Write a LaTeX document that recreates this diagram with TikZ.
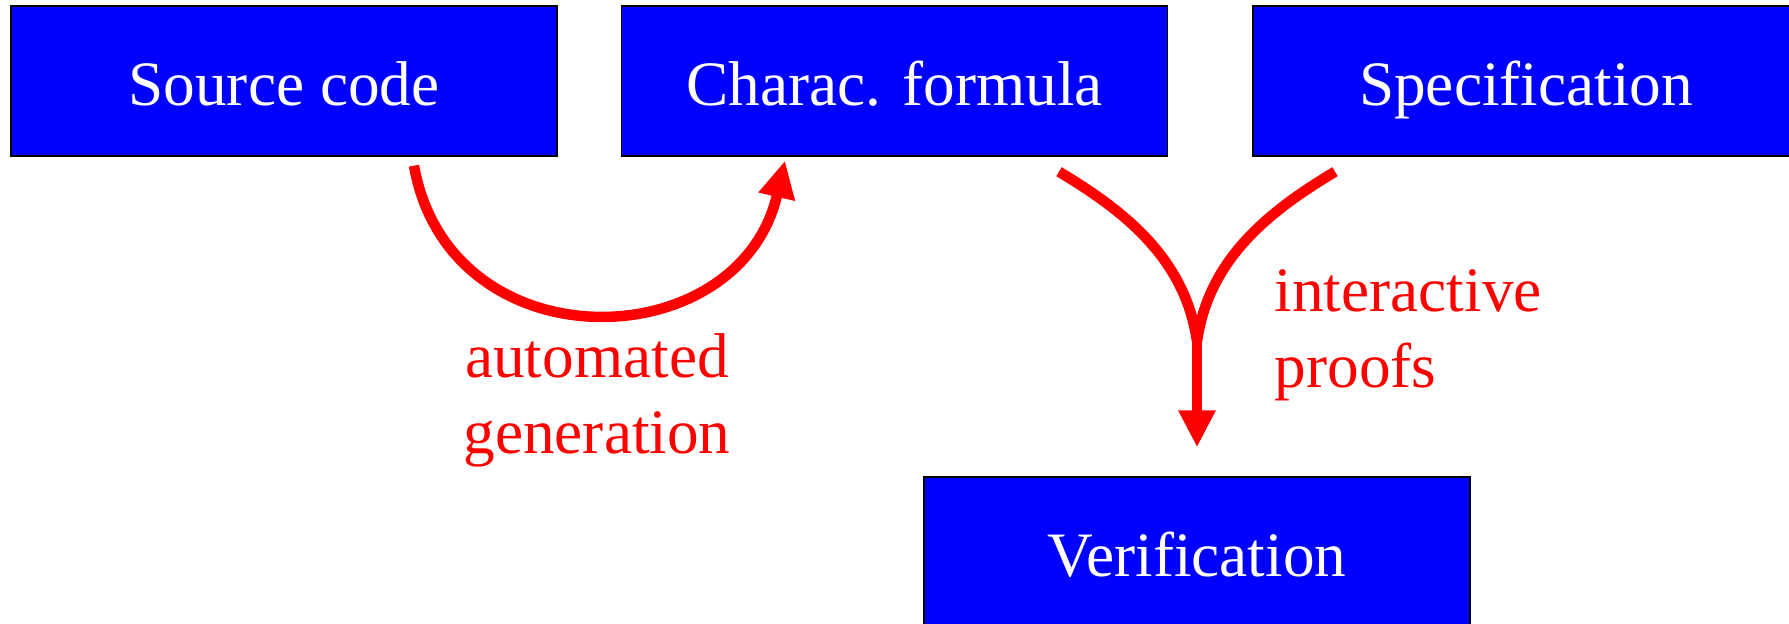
\documentclass[tikz,border=0pt]{standalone}
\usepackage{fontspec}
\setmainfont{Liberation Serif}
\usetikzlibrary{arrows.meta}
\definecolor{boxblue}{RGB}{0,0,255}

\begin{document}
\begin{tikzpicture}
    \useasboundingbox (0,0) rectangle (17.89,6.23);
    \begin{scope}[every node/.style={rectangle, fill=boxblue, draw=black, thin, minimum width=5.46cm, minimum height=1.5cm, inner sep=0pt, text height=14pt, text depth=0pt, text=white, font=\fontsize{18}{21.6}\selectfont}]
        \node (1) at (2.84,5.42) {Source code};
        \node (2) at (8.945,5.42) {Charac. formula};
        \node (3) at (15.26,5.42) {Specification};
        \node (4) at (11.97,0.71) {Verification};
    \end{scope}

    \coordinate (a) at ([xshift=1.3cm,yshift=-0.09cm]1.south);
    \coordinate (b) at ([xshift=-1.095cm,yshift=-0.04cm]2.south);
    \coordinate (c) at ([xshift=1.645cm,yshift=-0.15cm]2.south);
    \coordinate (d) at ([xshift=-1.91cm,yshift=-0.15cm]3.south);
    \coordinate (m) at ([yshift=1.35cm]4.north);

    \begin{scope}[every edge/.style={draw, red, line width=1.05mm}, flowtip/.style={-{Triangle[length=3.7mm,width=3.5mm]}}]
        \path (a) edge[flowtip, out=-80, in=-103, looseness=1.4] (b);
        \path (c) edge[-, out=-31, in=98, out looseness=0.85] (m);
        \path (d) edge[-, out=-149, in=82, out looseness=0.85] (m);
        \path (m) edge[flowtip, shorten >=0.29cm] (4);
    \end{scope}

    \begin{scope}[every node/.style={text=red, inner sep=0pt, font=\fontsize{18}{21.6}\selectfont}]
        \node (l1) [align=center] at (5.97,2.23) {automated\\generation};
        \node (l2) [align=left, anchor=west] at (12.74,2.88) {interactive\\proofs};
    \end{scope}
\end{tikzpicture}
\end{document}
